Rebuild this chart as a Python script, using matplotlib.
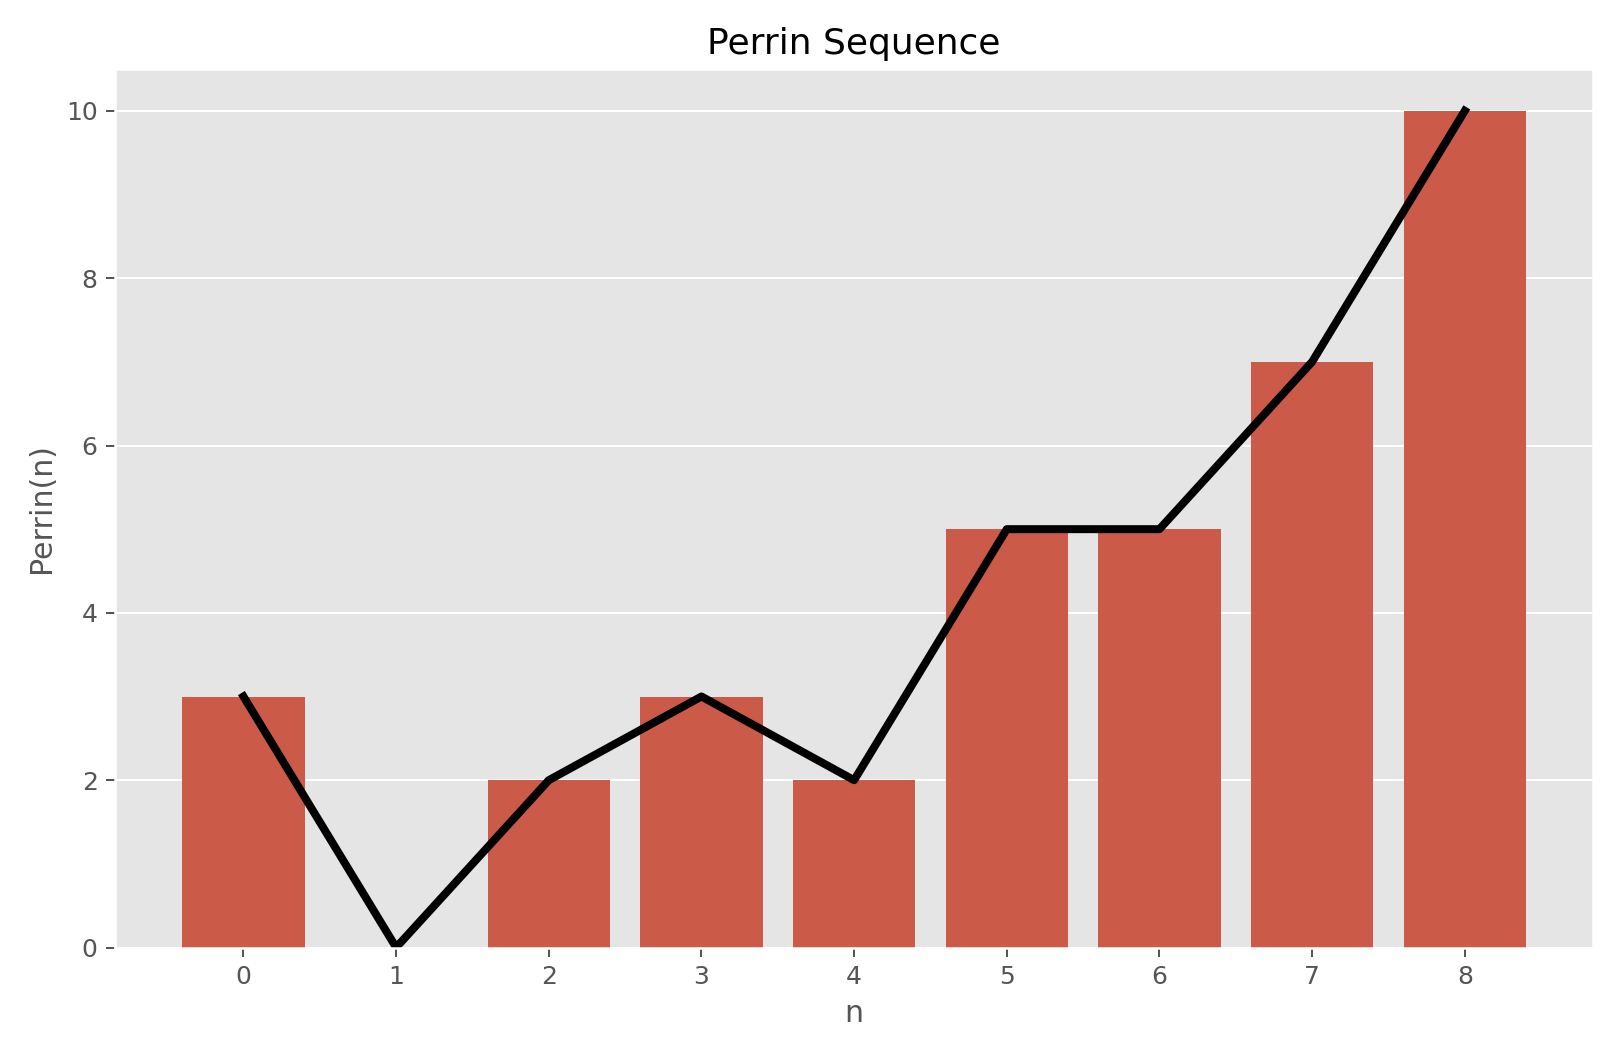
import matplotlib
matplotlib.use("Agg")
import matplotlib.pyplot as plt

plt.style.use("ggplot")

n = [0, 1, 2, 3, 4, 5, 6, 7, 8]
perrin = [3, 0, 2, 3, 2, 5, 5, 7, 10]

fig, ax = plt.subplots(figsize=(9, 1055 / 180), dpi=180)
ax.bar(n, perrin, color="#CC5A48")
ax.plot(n, perrin, color="black", linewidth=3.2)
ax.xaxis.grid(False)
ax.set_xticks(n)
ax.set_xlabel("n")
ax.set_ylabel("Perrin(n)")
ax.set_title("Perrin Sequence")
fig.tight_layout()
fig.savefig("out.png", dpi=180)
